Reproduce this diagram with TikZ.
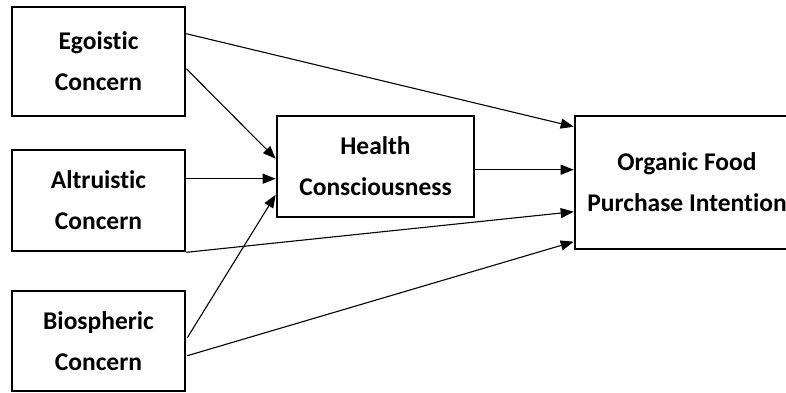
\documentclass[tikz,border=0pt]{standalone}
\usepackage{fontspec}
\setmainfont[Ligatures=NoCommon]{Carlito}
\usetikzlibrary{arrows.meta,calc}
\begin{document}
\begin{tikzpicture}[x=1pt,y=-1pt,
  factor/.style={draw=black, line width=2.6pt, inner sep=0pt, align=center,
    font=\bfseries\fontsize{25.5}{41}\selectfont},
  path/.style={line width=1.1pt, -{Triangle[length=13pt,width=10pt]}}]
  \useasboundingbox (0,0) rectangle (786,392);
  % constructs
  \node[factor, minimum width=173pt, minimum height=109pt] (ego) at (98.5,61.5) {Egoistic\\Concern};
  \node[factor, minimum width=173pt, minimum height=101pt] (alt) at (98.5,200.5) {Altruistic\\Concern};
  \node[factor, minimum width=173pt, minimum height=100pt] (bio) at (98.5,341) {Biospheric\\Concern};
  \node[factor, minimum width=197pt, minimum height=101pt] (hc) at (375.5,166.5) {Health\\Consciousness};
  \node[factor, minimum width=224pt, minimum height=133pt] (ofpi) at (687,182.5) {Organic Food\\Purchase Intention};
  % paths
  \draw[path] ($(ego.north east)+(0,28)$) -- ($(ofpi.north west)+(0,12)$);
  \draw[path] ($(ego.north east)+(0,63)$) -- ($(hc.north west)+(0,44)$);
  \draw[path] ($(alt.north east)+(0,30)$) -- ($(hc.north west)+(0,64)$);
  \draw[path] ($(bio.north east)+(1,48)$) -- ($(hc.north west)+(0,80)$);
  \draw[path] ($(hc.north east)+(0,55)$) -- ($(ofpi.north west)+(0,55)$);
  \draw[path] (alt.south east) -- ($(ofpi.north west)+(0,97)$);
  \draw[path] ($(bio.north east)+(1,66)$) -- ($(ofpi.north west)+(0,127)$);
\end{tikzpicture}
\end{document}
